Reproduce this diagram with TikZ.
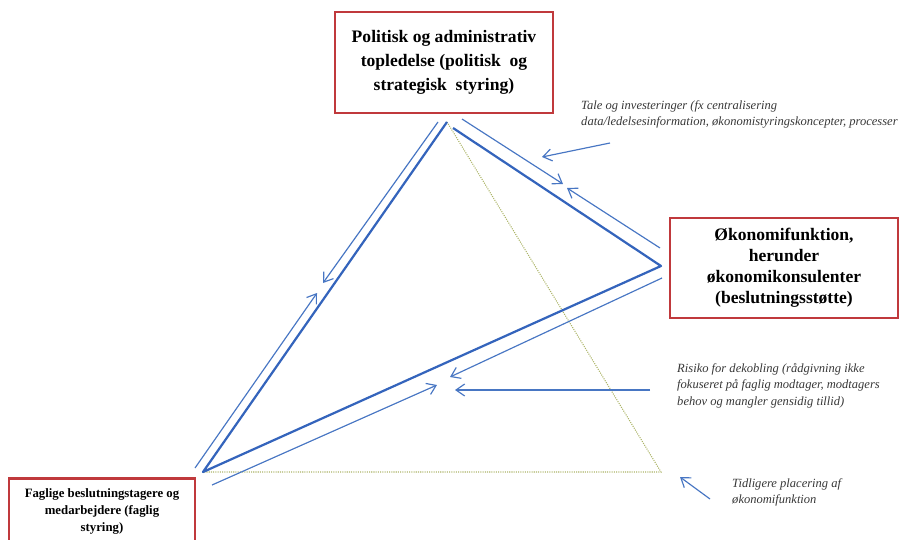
\documentclass[tikz,border=0pt]{standalone}
\usepackage{fontspec}
\setmainfont{Liberation Serif}
\usetikzlibrary{arrows.meta}

\definecolor{boksrod}{RGB}{192,57,60}
\definecolor{linjeblaa}{RGB}{72,118,195}
\definecolor{tykblaa}{RGB}{52,100,188}
\definecolor{prikgron}{RGB}{172,180,104}
\definecolor{tekstgraa}{RGB}{55,55,55}

\tikzset{
  boks/.style={draw=boksrod, line width=2.2pt, fill=white, align=center, inner sep=0pt},
  tyk/.style={tykblaa, line width=1.9pt},
  pil/.style={linjeblaa, line width=1pt, -{Straight Barb[length=2.6mm,width=3.6mm]}},
  gammel/.style={prikgron, densely dotted, line width=0.9pt},
  note/.style={font=\itshape\fontsize{10.7}{14}\selectfont, text=tekstgraa, align=left, anchor=north west, inner sep=0pt},
}

\begin{document}
\begin{tikzpicture}[x=0.03cm, y=-0.03cm]
    \useasboundingbox (0,0) rectangle (901,540);
    \clip (0,0) rectangle (901,540);

    % Hjoerner
    \coordinate (A) at (447,122);
    \coordinate (A2) at (453,128);
    \coordinate (R) at (661,266);
    \coordinate (B) at (203,472);
    \coordinate (G) at (661,472); % tidligere placering

    % Tidligere placering
    \draw[gammel] (A) -- (G) -- (B);

    % Trekant
    \draw[tyk, line join=round] (A) -- (B) -- (R) -- (A2);

    % Dobbeltpile langs siderne
    \coordinate (v1) at (438,122);   \coordinate (v1m) at (323,283);
    \coordinate (v2) at (195,468);   \coordinate (v2m) at (317,293);
    \coordinate (h1) at (462,119);   \coordinate (h1m) at (563,184);
    \coordinate (h2) at (660,248);   \coordinate (h2m) at (567,188);
    \coordinate (n1) at (662,278);   \coordinate (n1m) at (450,377);
    \coordinate (n2) at (212,485);   \coordinate (n2m) at (437,385);
    \foreach \fra/\til in {v1/v1m, v2/v2m, h1/h1m, h2/h2m, n1/n1m, n2/n2m} {
        \draw[pil] (\fra) -- (\til);
    }

    % Bokse
    \node[boks, font=\bfseries\fontsize{15}{20.5}\selectfont, minimum width=6.54cm, minimum height=3.03cm] (top) at (444,62.5)
        {Politisk og administrativ\\topledelse (politisk\ \ og\\strategisk\ \ styring)};
    \node[boks, font=\bfseries\fontsize{15}{18}\selectfont, minimum width=6.84cm, minimum height=3cm] (okonomi) at (784,268)
        {Økonomifunktion,\\herunder\\økonomikonsulenter\\(beslutningsstøtte)};
    \node[boks, font=\bfseries\fontsize{10.9}{14.5}\selectfont, minimum width=5.58cm, minimum height=1.98cm, anchor=north] (faglig) at (102,477)
        {Faglige beslutningstagere og\\medarbejdere (faglig\\styring)};

    % Noter
    \node[note] (tale) at (581,100)
        {Tale og investeringer (fx centralisering\\data/ledelsesinformation, økonomistyringskoncepter, processer};
    \node[note] (risiko) at (677,363)
        {Risiko for dekobling (rådgivning ikke\\fokuseret på faglig modtager, modtagers\\behov og mangler gensidig tillid)};
    \node[note] (tidligere) at (732,478)
        {Tidligere placering af\\økonomifunktion};

    % Henvisningspile
    \coordinate (t1) at (610,143);  \coordinate (t1m) at (542,157);
    \coordinate (r1) at (650,390);  \coordinate (r1m) at (455,390);
    \coordinate (p1) at (710,499);  \coordinate (p1m) at (680,477);
    \draw[pil] (t1) -- (t1m);
    \draw[pil] (r1) -- (r1m);
    \draw[pil] (p1) -- (p1m);
\end{tikzpicture}
\end{document}
